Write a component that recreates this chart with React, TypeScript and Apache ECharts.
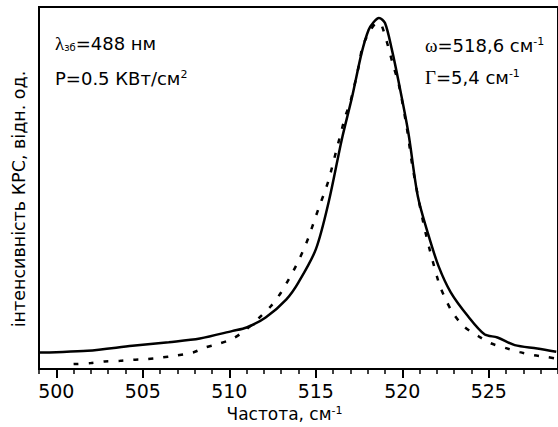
import React, { useEffect, useRef } from "react";
import * as echarts from "echarts";

// Measured Raman spectrum (solid line)
const measuredFreq = [499.0, 500.0, 501.8, 504.4, 506.5, 508.3, 510.2, 511.0, 512.1, 513.3, 514.0, 515.0, 515.75, 516.5, 517.1, 517.65, 518.05, 518.35, 518.65, 519.0, 519.4, 519.8, 520.35, 520.9, 521.5, 522.1, 522.8, 523.8, 524.75, 525.5, 526.5, 527.8, 528.9];
const measuredIntensity = [16.7, 17, 18.3, 23.3, 27, 30.7, 38.3, 41.7, 51.7, 70, 87, 120, 168, 230, 273, 317, 340, 348, 352, 347, 320, 287, 237, 173, 135, 103, 77, 53, 35, 31.7, 24, 20.7, 17.3];

// Lorentzian fit (dotted line)
const fitFreq = [501.0, 502.0, 502.8, 503.7, 504.4, 505.2, 506.1, 506.8, 507.9, 508.6, 509.3, 510.2, 511.0, 511.7, 512.4, 513.0, 513.5, 513.9, 514.3, 514.6, 514.9, 515.2, 515.5, 515.75, 516.2, 516.7, 517.0, 517.5, 517.7, 518.1, 518.55, 518.8, 519.5, 519.8, 520.25, 520.6, 521.3, 522.1, 522.45, 522.9, 523.55, 524.4, 525.1, 526.0, 526.8, 527.6, 528.4, 528.9];
const fitIntensity = [5, 6, 7.7, 8.3, 9.3, 10, 11.7, 13.3, 16.7, 21.7, 25, 30.5, 40, 51, 63, 77, 92, 105, 120, 133, 148, 163, 177, 190, 220, 253, 268, 305, 323, 338, 347, 345, 303, 285, 243, 202, 140, 87, 72, 57, 43, 33, 26, 21, 17, 14, 12, 10.5];

const majorTicks = [500, 505, 510, 515, 520, 525];

const SANS = "DejaVu Sans";
const SERIF = "Liberation Serif";

export default function App() {
  const ref = useRef<HTMLDivElement>(null);

  useEffect(() => {
    if (!ref.current) return;
    const chart = echarts.init(ref.current, undefined, { renderer: "svg" });

    const measured = measuredFreq.map((f, i) => [f, measuredIntensity[i]]);
    const fit = fitFreq.map((f, i) => [f, fitIntensity[i]]);

    const rich = {
      t: { fontFamily: SANS, fontSize: 18, color: "#000" },
      ax: { fontFamily: SANS, fontSize: 17, color: "#000" },
      g: { fontFamily: SERIF, fontSize: 19, color: "#000" },
      sub: { fontFamily: SANS, fontSize: 10, color: "#000", verticalAlign: "bottom" },
      sup: { fontFamily: SANS, fontSize: 11, color: "#000", verticalAlign: "top" },
    };

    chart.setOption({
      animation: false,
      backgroundColor: "#fff",
      grid: {
        left: 39,
        top: 7,
        width: 522,
        height: 363,
        show: true,
        borderColor: "#000",
        borderWidth: 2,
        backgroundColor: "transparent",
      },
      xAxis: [
        {
          type: "value",
          min: 499,
          max: 529,
          position: "bottom",
          axisLine: { show: true, onZero: false, lineStyle: { color: "#000", width: 2 } },
          axisTick: {
            show: true,
            inside: false,
            customValues: majorTicks,
            length: 9,
            lineStyle: { color: "#000", width: 2 },
          },
          axisLabel: {
            show: true,
            customValues: majorTicks,
            margin: 12,
            color: "#000",
            fontFamily: SANS,
            fontSize: 19,
          },
          splitLine: { show: false },
          name: "{ax|Частота, см}{sup|-1}",
          nameLocation: "middle",
          nameGap: 34,
          nameTextStyle: {
            padding: [0, 28, 0, 0],
            rich,
          },
        },
        {
          type: "value",
          min: 499,
          max: 529,
          interval: 1,
          position: "bottom",
          axisLine: { show: false, onZero: false },
          axisTick: { show: true, inside: false, length: 5, lineStyle: { color: "#000", width: 1.5 } },
          axisLabel: { show: false },
          splitLine: { show: false },
        },
      ],
      yAxis: {
        type: "value",
        min: 0,
        max: 363,
        axisLine: { show: true, onZero: false, lineStyle: { color: "#000", width: 2 } },
        axisTick: { show: false },
        axisLabel: { show: false },
        splitLine: { show: false },
        name: "інтенсивність КРС, відн. од.",
        nameLocation: "middle",
        nameGap: 11,
        nameTextStyle: {
          color: "#000",
          fontFamily: SANS,
          fontSize: 17.5,
          padding: [0, 22, 0, 0],
        },
      },
      series: [
        {
          type: "line",
          xAxisIndex: 0,
          data: measured,
          smooth: 0.3,
          symbol: "none",
          lineStyle: { color: "#000", width: 2.5 },
          z: 3,
        },
        {
          type: "line",
          xAxisIndex: 0,
          data: fit,
          smooth: 0.3,
          symbol: "none",
          lineStyle: { color: "#000", width: 2.5, type: [5, 10] },
          z: 2,
        },
      ],
      graphic: [
        {
          type: "text",
          x: 55,
          y: 43,
          style: {
            text: "{g|λ}{sub|зб}{t|=488 нм}",
            rich,
            verticalAlign: "middle",
          },
        },
        {
          type: "text",
          x: 55,
          y: 78,
          style: {
            text: "{t|P=0.5 КВт/см}{sup|2}",
            rich,
            verticalAlign: "middle",
          },
        },
        {
          type: "text",
          x: 425,
          y: 45,
          style: {
            text: "{g|ω}{t|=518,6 см}{sup|-1}",
            rich,
            verticalAlign: "middle",
          },
        },
        {
          type: "text",
          x: 425,
          y: 77,
          style: {
            text: "{g|Γ}{t|=5,4 см}{sup|-1}",
            rich,
            verticalAlign: "middle",
          },
        },
      ],
    });

    return () => chart.dispose();
  }, []);

  return (
    <div
      ref={ref}
      style={{ position: "fixed", left: 0, top: 0, width: 558, height: 427, background: "#fff" }}
    />
  );
}
